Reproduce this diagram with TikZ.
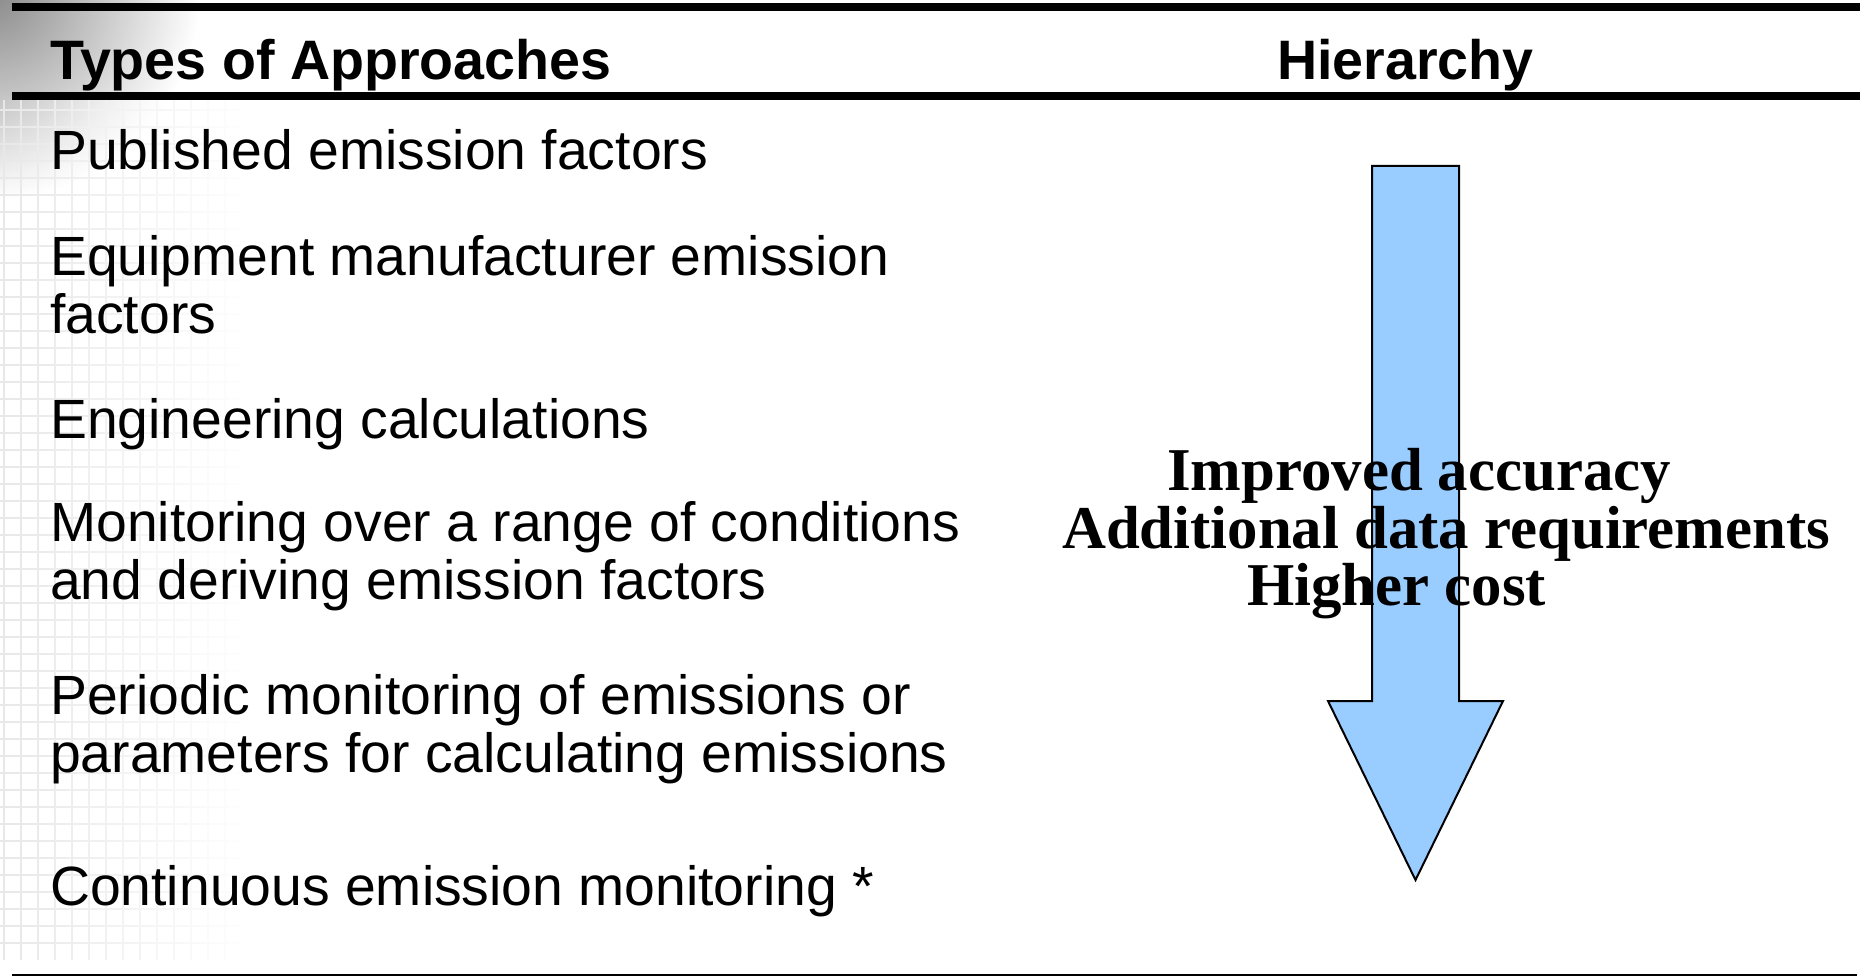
\documentclass[tikz,border=0pt]{standalone}
\usepackage{fontspec}
\setmainfont{Liberation Sans}
\newfontfamily\labelserif{Liberation Serif}
\usetikzlibrary{fadings}
\definecolor{arrowblue}{RGB}{153,204,255}
\tikzfading[name=cornerfade, inner color=transparent!15, outer color=transparent!100]
\tikzfading[name=whiteright, left color=transparent!100, right color=transparent!0]
\tikzset{
  rule/.style={line width=8pt},
  heading/.style={anchor=base west, inner sep=0pt, font=\fontsize{55.6}{58}\selectfont\bfseries},
  item/.style={anchor=base west, inner sep=0pt, align=left, font=\fontsize{55.3}{58}\selectfont},
  effect/.style={anchor=base west, inner sep=0pt, font=\fontsize{60.8}{58}\selectfont\labelserif\bfseries},
  hierarrow/.style={fill=arrowblue, draw=black, line width=2pt, line join=miter}
}
\begin{document}
\begin{tikzpicture}[x=1pt, y=-1pt]
\useasboundingbox (0,0) rectangle (1860,976);
% faint background texture on the left edge
\begin{scope}
  \clip (0,0) rectangle (1860,976);
  \fill[black!55, path fading=cornerfade] (-10,-10) circle (210);
  \begin{scope}[black!9, line width=1.5pt]
    \foreach \gx in {4,21,...,230} {
      \draw (\gx,100) -- (\gx,960);
    }
    \foreach \gy in {110,127,...,950} {
      \draw (0,\gy) -- (240,\gy);
    }
  \end{scope}
  \fill[white, path fading=whiteright] (0,98) rectangle (250,976);
\end{scope}
% header rules
\draw[rule] (12,7) -- (1860,7);
\draw[rule] (12,96) -- (1860,96);
\draw[line width=2pt] (12,975) -- (1857,975);
% column headings
\node[heading] (types) at (50,80) {Types of Approaches};
\node[heading] (hier) at (1277,80) {Hierarchy};
% approaches (base anchor sits on the last line)
\node[item] (pub) at (50,170) {Published emission factors};
\node[item] (equip) at (50,333) {Equipment manufacturer emission\\factors};
\node[item] (eng) at (50,438) {Engineering calculations};
\node[item] (range) at (50,599) {Monitoring over a range of conditions\\and deriving emission factors};
\node[item] (periodic) at (50,772) {Periodic monitoring of emissions or\\parameters for calculating emissions};
\node[item] (cems) at (50,905) {Continuous emission monitoring *};
% hierarchy arrow
\draw[hierarrow] (1372,166) -- (1459,166) -- (1459,701) -- (1503,701)
  -- (1415.5,880) -- (1328,701) -- (1372,701) -- cycle;
\node[effect] (accuracy) at (1167,490) {Improved accuracy};
\node[effect] (data) at (1062,548) {Additional data requirements};
\node[effect] (cost) at (1247,605) {Higher cost};
\end{tikzpicture}
\end{document}
